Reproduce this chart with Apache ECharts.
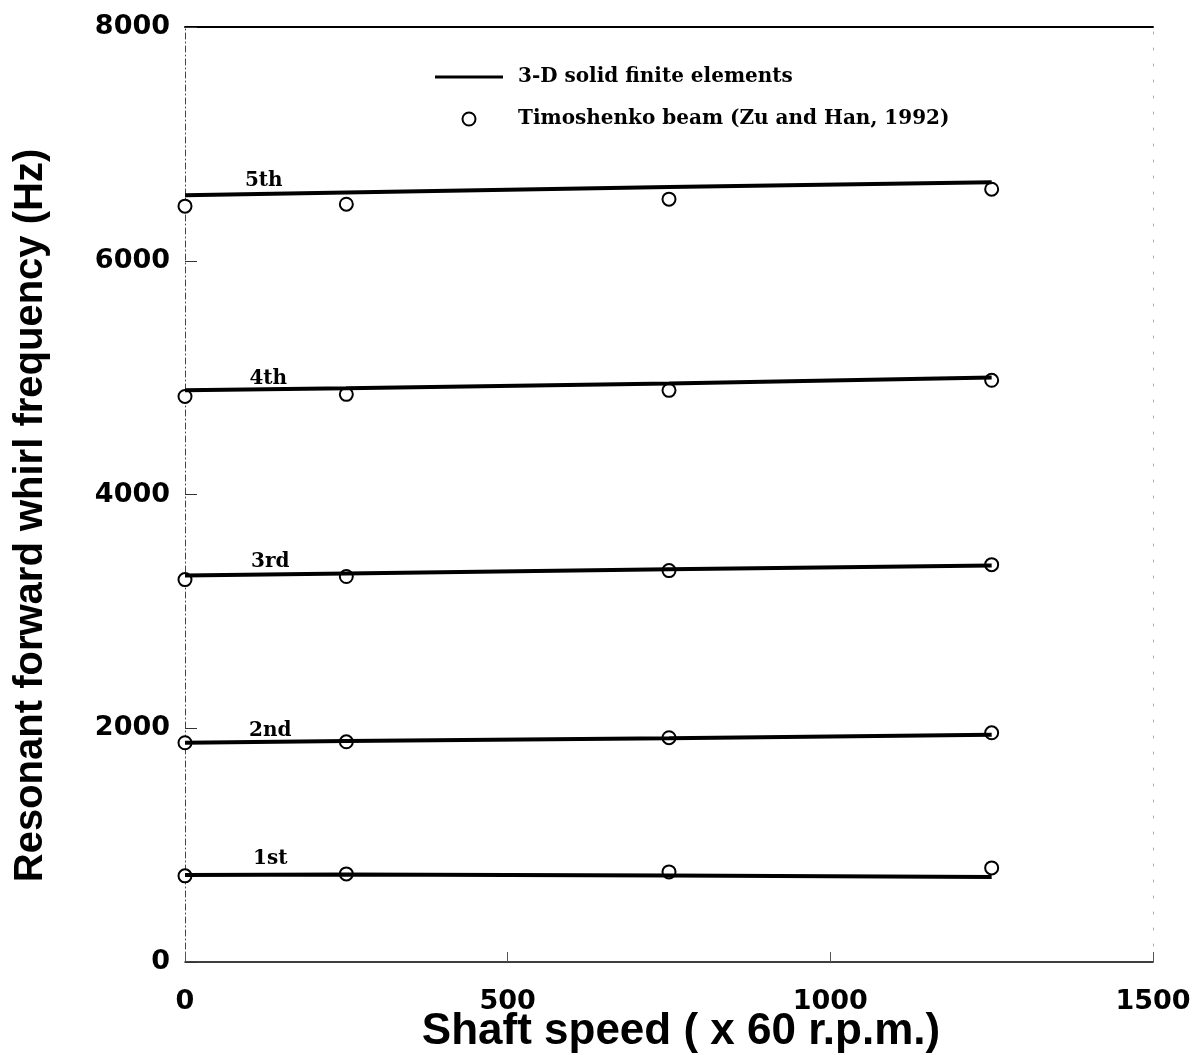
<!DOCTYPE html>
<html>
<head>
<meta charset="utf-8">
<script src="https://cdn.jsdelivr.net/npm/echarts@6/dist/echarts.min.js"></script>
<style>
  html, body { margin: 0; padding: 0; background: #fff; }
  #chart { width: 1197px; height: 1055px; }
</style>
</head>
<body>
<div id="chart"></div>
<script>
// Shaft speeds (x 60 r.p.m.) at which the whirl frequencies were computed
const speeds = [0, 250, 750, 1250];

// 3-D solid finite element results (Hz), modes 1..5
const fe1 = [745, 748, 740, 728];
const fe2 = [1876, 1890, 1915, 1944];
const fe3 = [3306, 3325, 3360, 3392];
const fe4 = [4891, 4910, 4950, 5002];
const fe5 = [6560, 6585, 6630, 6672];

// Timoshenko beam results (Zu and Han, 1992), modes 1..5
const tb1 = [737, 754, 771, 805];
const tb2 = [1876, 1884, 1919, 1961];
const tb3 = [3272, 3298, 3349, 3400];
const tb4 = [4839, 4857, 4891, 4977];
const tb5 = [6467, 6484, 6527, 6612];

// Mode labels and where they sit (speed, frequency)
const modeNames = ['1st', '2nd', '3rd', '4th', '5th'];
const modeLabelAt = [[132, 885], [132, 1975], [132, 3420], [129, 4990], [122, 6680]];

const xTicks = [0, 500, 1000, 1500];
const yTicks = [0, 2000, 4000, 6000, 8000];

const feSeries = [fe1, fe2, fe3, fe4, fe5];
const tbSeries = [tb1, tb2, tb3, tb4, tb5];

const LEG_FE = '3-D solid finite elements';
const LEG_TB = 'Timoshenko beam (Zu and Han, 1992)';
const serif = '"DejaVu Serif", "Liberation Serif", serif';

const series = [];
tbSeries.forEach(function (vals) {
  series.push({
    name: LEG_TB,
    type: 'scatter',
    symbol: 'emptyCircle',
    symbolSize: 13,
    z: 2,
    itemStyle: { color: '#000', borderColor: '#000', borderWidth: 1.3, opacity: 1 },
    data: speeds.map(function (s, k) { return [s, vals[k]]; })
  });
});
feSeries.forEach(function (vals) {
  series.push({
    name: LEG_FE,
    type: 'line',
    symbol: 'none',
    z: 3,
    itemStyle: { color: '#000' },
    lineStyle: { color: '#000', width: 4 },
    data: speeds.map(function (s, k) { return [s, vals[k]]; })
  });
});
series.push({
  name: 'modes',
  type: 'scatter',
  symbolSize: 0,
  z: 4,
  silent: true,
  itemStyle: { opacity: 1, color: '#000' },
  data: modeLabelAt.map(function (p, i) { return { value: p, name: modeNames[i] }; }),
  label: {
    show: true,
    position: 'inside',
    formatter: function (p) { return p.name; },
    fontFamily: serif,
    fontWeight: 'bold',
    fontSize: 20,
    color: '#000',
    opacity: 1,
    textBorderWidth: 0
  }
});

const tickFont = { fontFamily: '"DejaVu Sans", sans-serif', fontWeight: 'bold', fontSize: 27, color: '#000' };
const nameFont = { fontFamily: '"Liberation Sans", Arial, sans-serif', fontWeight: 'bold', color: '#000' };

const chart = echarts.init(document.getElementById('chart'), null, { renderer: 'canvas' });
chart.setOption({
  backgroundColor: '#fff',
  animation: false,
  grid: { left: 185, right: 44, top: 27, bottom: 93, containLabel: false, outerBoundsMode: 'none' },
  legend: {
    left: 430,
    top: 62,
    orient: 'vertical',
    itemWidth: 68,
    itemHeight: 13,
    itemGap: 22,
    data: [
      { name: LEG_FE, icon: 'path://M0,0 L68,0 L68,3 L0,3 Z' },
      { name: LEG_TB }
    ],
    textStyle: { fontFamily: serif, fontWeight: 'bold', fontSize: 20, color: '#000', padding: [0, 0, 0, 10] }
  },
  xAxis: [{
    type: 'value',
    min: 0, max: 1500, interval: 500,
    name: 'Shaft speed ( x 60 r.p.m.)',
    nameLocation: 'middle',
    nameGap: 48,
    nameMoveOverlap: false,
    nameTextStyle: Object.assign({ fontSize: 44, padding: [0, 0, 0, 24] }, nameFont),
    axisLine: { show: true, lineStyle: { color: '#000', width: 1.5 } },
    axisTick: { show: true, inside: true, length: 10, lineStyle: { color: '#555', width: 1 } },
    axisLabel: Object.assign({ margin: 26, formatter: function (v) { return xTicks.indexOf(v) >= 0 ? String(v) : ''; } }, tickFont),
    splitLine: { show: false }
  }, {
    type: 'value',
    position: 'top',
    min: 0, max: 1500, interval: 500,
    axisLine: { show: true, onZero: false, lineStyle: { color: '#000', width: 2 } },
    axisTick: { show: false },
    axisLabel: { show: false },
    splitLine: { show: false }
  }],
  yAxis: [{
    type: 'value',
    min: 0, max: 8000, interval: 2000,
    name: 'Resonant forward whirl frequency (Hz)',
    nameLocation: 'middle',
    nameGap: 134,
    nameMoveOverlap: false,
    nameTextStyle: Object.assign({ fontSize: 40, padding: [0, 42, 0, 0] }, nameFont),
    axisLine: { show: true, lineStyle: { color: '#444', width: 1, type: [6, 3, 1, 3] } },
    axisTick: { show: true, inside: true, length: 12, lineStyle: { color: '#333', width: 1 } },
    axisLabel: Object.assign({ margin: 15, formatter: function (v) { return yTicks.indexOf(v) >= 0 ? String(v) : ''; } }, tickFont),
    splitLine: { show: false }
  }, {
    type: 'value',
    position: 'right',
    min: 0, max: 8000, interval: 2000,
    axisLine: { show: true, onZero: false, lineStyle: { color: '#aaa', width: 1, type: [2, 14] } },
    axisTick: { show: false },
    axisLabel: { show: false },
    splitLine: { show: false }
  }],
  series: series
});
</script>
</body>
</html>
